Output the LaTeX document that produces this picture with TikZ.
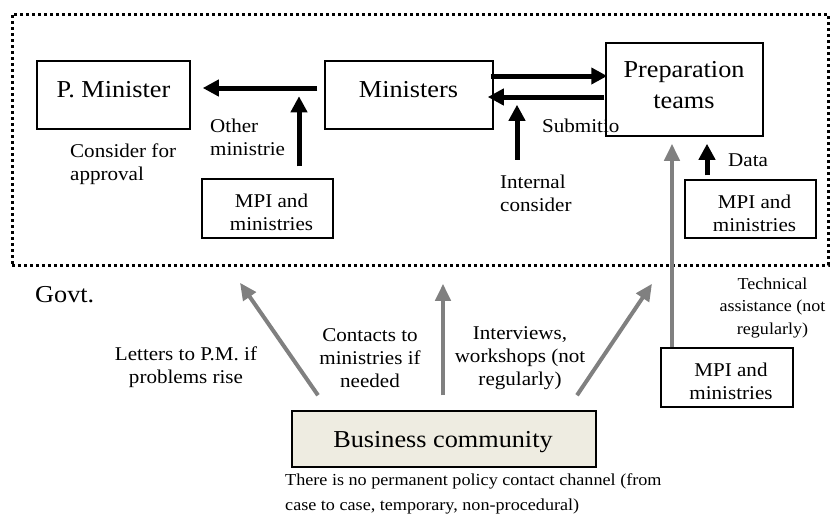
\documentclass[tikz,border=0pt]{standalone}
\usepackage{fontspec}
\setmainfont{Liberation Serif}[FakeStretch=1.08]
\usetikzlibrary{arrows.meta,calc}
\definecolor{arrgray}{RGB}{128,128,128}
\definecolor{beige}{RGB}{238,236,225}
\begin{document}
\begin{tikzpicture}[x=1pt,y=-1pt,
  box/.style={draw,line width=1.5pt,inner sep=0pt},
  big/.style={font=\fontsize{24.3}{30.5}\selectfont,inner sep=0pt},
  med/.style={font=\fontsize{19.5}{23}\selectfont,inner sep=0pt},
  small/.style={font=\fontsize{16.7}{22.5}\selectfont,inner sep=0pt},
  note/.style={font=\fontsize{16.8}{25}\selectfont,inner sep=0pt},
  blk/.style={line width=5pt,-{Triangle[length=16pt,width=16pt]}},
  gry/.style={line width=4pt,draw=arrgray,-{Triangle[length=17pt,width=15pt]}},
  frame/.style={draw,line width=3pt,dash pattern=on 3pt off 3pt,inner sep=0pt}
]
\useasboundingbox (0,0) rectangle (830,520);
\node[frame,minimum width=816pt,minimum height=251pt] (gov) at (420,139.5) {};

% boxes
\node[box,minimum width=153pt,minimum height=68pt] (pm) at (113.5,95) {};
\node[box,minimum width=168pt,minimum height=68pt] (min) at (409,95) {};
\node[box,minimum width=157pt,minimum height=93pt] (prep) at (684.5,89.5) {};
\node[box,minimum width=131pt,minimum height=59pt] (mpi1) at (267.5,208.5) {};
\node[box,minimum width=131pt,minimum height=58pt] (mpi2) at (750.5,209) {};
\node[box,minimum width=132pt,minimum height=59pt] (mpi3) at (727,377.5) {};
\node[box,fill=beige,minimum width=304pt,minimum height=56pt] (bc) at (444,439) {};

% box texts (multi-line nodes: base = baseline of last line)
\node[big,anchor=base] (pmt) at (113.5,97) {P. Minister};
\node[big,anchor=base] (mint) at (408.5,97) {Ministers};
\node[big,anchor=base,align=center] (prept) at (684,108) {Preparation\\teams};
\node[med,anchor=base,align=center] (m1t) at (271.5,230) {MPI and\\ministries};
\node[med,anchor=base,align=center] (m2t) at (754.5,231) {MPI and\\ministries};
\node[med,anchor=base,align=center] (m3t) at (731,399.5) {MPI and\\ministries};
\node[big,anchor=base] (bct) at (443,447.7) {Business community};

% labels
\node[big,anchor=base west] (govt) at (35,302.3) {Govt.};
\node[med,anchor=base west,align=left] (l1) at (210,155) {Other\\ministrie};
\node[med,anchor=base west,align=left] (l2) at (70,180) {Consider for\\approval};
\node[med,anchor=base west] (l3) at (542,132) {Submitio};
\node[med,anchor=base west,align=left] (l4) at (500,211.7) {Internal\\consider};
\node[med,anchor=base west] (l5) at (728,166.7) {Data};
\node[small,anchor=base,align=center] (l6) at (772.5,334) {Technical\\assistance (not\\regularly)};
\node[med,anchor=base,align=center] (l7) at (186,383) {Letters to P.M. if\\problems rise};
\node[med,anchor=base,align=center] (l8) at (370,387) {Contacts to\\ministries if\\needed};
\node[med,anchor=base,align=center] (l9) at (520,385) {Interviews,\\workshops (not\\regularly)};
\node[note,anchor=base west,align=left] (nt) at (285,510) {There is no permanent policy contact channel (from\\case to case, temporary, non-procedural)};

% black arrows
\draw[blk] ($(min.west)+(-7,-7)$) -- ($(pm.east)+(12,-7)$);
\draw[blk] ($(mpi1.north)+(31.5,-12)$) -- ($(mpi1.north)+(31.5,-82)$);
\draw[blk] ($(min.east)+(-3,-19)$) -- ($(prep.west)+(2,-13.5)$);
\draw[blk] ($(prep.west)+(-1,7.5)$) -- ($(min.east)+(-6,2)$);
\draw[blk] ($(min.south)+(108,30)$) -- ($(min.south)+(108,-25)$);
\draw[blk] ($(mpi2.north)+(-43.5,-4)$) -- ($(prep.south)+(22.5,7)$);

% gray arrows
\draw[gry] ($(mpi3.north)+(-55,0)$) -- ($(prep.south)+(-12.5,7)$);
\draw[gry] ($(bc.north)+(-126,-15)$) -- ($(pm.south)+(126.5,153)$);
\draw[gry] ($(bc.north)+(-1,-15)$) -- ($(min.south)+(34,154)$);
\draw[gry] ($(bc.north)+(133,-15)$) -- ($(prep.south)+(-32.5,147)$);
\end{tikzpicture}
\end{document}
